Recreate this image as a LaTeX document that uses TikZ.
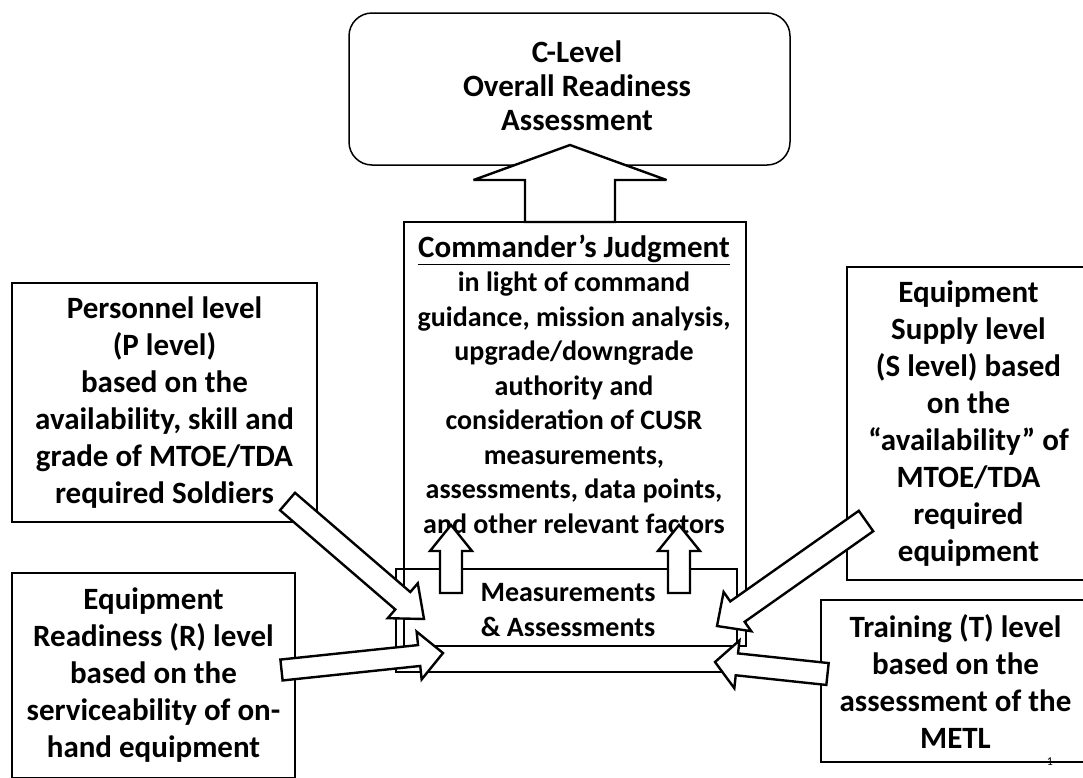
\documentclass[tikz,border=0pt]{standalone}
\usepackage{fontspec}
\setmainfont{Carlito}
\usetikzlibrary{calc}

\tikzset{
  box/.style={draw, line width=1.4pt, inner sep=0pt, align=center},
  label/.style={inner sep=0pt, align=center, font=\bfseries\fontsize{31}{37}\selectfont},
  blockarrow/.style={draw, fill=white, line width=2.4pt, line join=miter, miter limit=4},
}

% Block arrow: #1 tail, #2 tip, #3 shaft half width, #4 head half width, #5 head length
\newcommand\blockarrow[5]{%
  \coordinate (hb) at ($(#2)!#5!(#1)$);
  \path[blockarrow]
    ($(#1)!#3!90:(#2)$) -- ($(hb)!#3!90:(#2)$) -- ($(hb)!#4!90:(#2)$) -- (#2)
    -- ($(hb)!#4!-90:(#2)$) -- ($(hb)!#3!-90:(#2)$) -- ($(#1)!#3!-90:(#2)$) -- cycle;
}

\begin{document}
\begin{tikzpicture}[x=1pt,y=-1pt]
\clip (0,0) rectangle (1083,777);
\fill[white] (0,0) rectangle (1083,777);

% overall readiness
\node[box, rounded corners=23pt, line width=1.5pt, minimum width=441pt, minimum height=152pt] (clevel) at (569.5,89) {};
\node[label, font=\bfseries\fontsize{31}{34}\selectfont] (cleveltext) at (577,86) {C-Level\\Overall Readiness\\Assessment};

% commander's judgment and measurements
\node[box, line width=1.1pt, minimum width=342pt, minimum height=424pt] (cmd) at (575,434) {};
\node[label, font=\bfseries\fontsize{28}{34.5}\selectfont] (cmdtext) at (574,384)
  {{\fontsize{31}{34.5}\selectfont\underline{Commander’s Judgment}}\\in light of command\\guidance, mission analysis,\\upgrade/downgrade\\authority and\\consideration of CUSR\\measurements,\\assessments, data points,\\and other relevant factors};
\node[box, line width=1.2pt, minimum width=341pt, minimum height=103pt] (meas) at (566.5,620.5) {};
\node[label, font=\bfseries\fontsize{28}{35}\selectfont] (meastext) at (568,610.5) {Measurements\\\& Assessments};

% the four contributing levels
\node[box, label, draw, line width=1.4pt, minimum width=305pt, minimum height=239pt] (pers) at (164.5,402.5)
  {Personnel level\\(P level)\\based on the\\availability, skill and\\grade of MTOE/TDA\\required Soldiers};
\node[box, label, draw, line width=1.4pt, minimum width=283pt, minimum height=205pt] (equip) at (153.5,675.5)
  {Equipment\\Readiness (R) level\\based on the\\serviceability of on-\\hand equipment};
\node[box, label, draw, line width=1.4pt, minimum width=243pt, minimum height=313pt] (supply) at (968.5,423.5)
  {Equipment\\Supply level\\(S level) based\\on the\\“availability” of\\MTOE/TDA\\required\\equipment};
\node[box, label, draw, line width=1.4pt, minimum width=269pt, minimum height=162pt] (train) at (955.5,681)
  {Training (T) level\\based on the\\assessment of the\\METL};

\node[inner sep=0pt, font=\fontsize{12}{12}\selectfont] (pageno) at (1050,762) {1};

% arrow end points
\coordinate (persT) at (287.5,501.5);  \coordinate (persP) at (424,619);
\coordinate (equipT) at (281.5,670);   \coordinate (equipP) at (443,653);
\coordinate (supT) at (866,521);       \coordinate (supP) at (717,626);
\coordinate (trainT) at (827.5,674);   \coordinate (trainP) at (715,662);
\coordinate (cmdT) at (570,222);       \coordinate (cmdP) at (570,145);
\coordinate (mlT) at (451,593);        \coordinate (mlP) at (451,525);
\coordinate (mrT) at (679,593);        \coordinate (mrP) at (679,525);

\blockarrow{persT}{persP}{11.5pt}{23pt}{28pt}
\blockarrow{equipT}{equipP}{10.5pt}{24pt}{24pt}
\blockarrow{supT}{supP}{12.5pt}{24pt}{25pt}
\blockarrow{trainT}{trainP}{11pt}{24pt}{22pt}
\blockarrow{cmdT}{cmdP}{45pt}{96.5pt}{35pt}
\blockarrow{mlT}{mlP}{11pt}{21pt}{26pt}
\blockarrow{mrT}{mrP}{11pt}{21pt}{26pt}
\end{tikzpicture}
\end{document}
